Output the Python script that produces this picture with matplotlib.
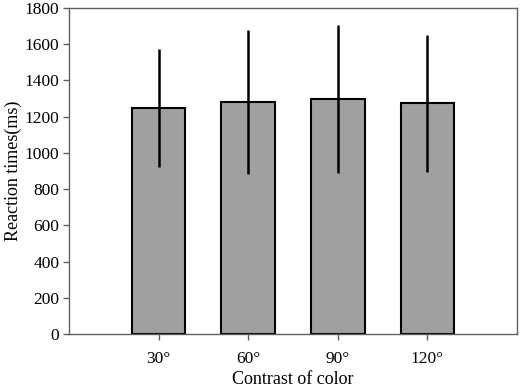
import matplotlib.pyplot as plt

plt.rcParams['font.family'] = ['Liberation Serif', 'DejaVu Serif']

# Reaction time per color contrast
categories = ['30°', '60°', '90°', '120°']
means = [1248, 1279, 1299, 1275]
sds = [325, 398, 408, 378]

fig = plt.figure(figsize=(5.29, 3.89), dpi=100)
ax = fig.add_axes([69 / 529, 1 - 334 / 389, 448 / 529, 326 / 389])

x = range(1, len(categories) + 1)
ax.bar(x, means, width=0.6, color='#a0a0a0', edgecolor='black', linewidth=1.5, zorder=2)
ax.errorbar(x, means, yerr=sds, fmt='none', ecolor='black', elinewidth=1.8, capsize=0, zorder=3)

ax.set_xlim(0, 5)
ax.set_ylim(0, 1800)
ax.set_yticks(range(0, 1801, 200))
ax.set_xticks(list(x))
ax.set_xticklabels(categories)

for s in ax.spines.values():
    s.set_color('#606060')
    s.set_linewidth(1.0)
ax.tick_params(direction='out', length=4, width=1, color='#606060', labelsize=12.5, pad=3)
ax.tick_params(axis='x', pad=8)

ax.set_xlabel('Contrast of color', fontsize=13, labelpad=3)
ax.set_ylabel('Reaction times(ms)', fontsize=13, labelpad=2)

fig.savefig('out.png', dpi=100)
